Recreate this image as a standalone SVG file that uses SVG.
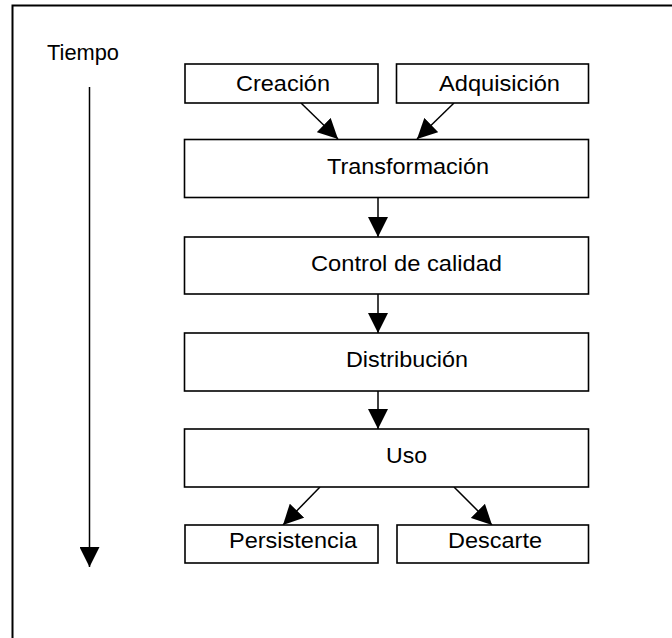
<svg xmlns="http://www.w3.org/2000/svg" width="672" height="638" viewBox="0 0 672 638">
<style>
.box{fill:#fff;stroke:#000;stroke-width:1.6}
.lbl{font-family:"Liberation Sans",Arial,sans-serif;font-size:22px;fill:#000}
.con{stroke:#000;stroke-width:1.5;fill:none;marker-end:url(#ah)}
</style>
<defs>
<marker id="ah" markerUnits="userSpaceOnUse" markerWidth="20" markerHeight="20" refX="20" refY="10" orient="auto" viewBox="0 0 20 20">
<path d="M0,0 L20,10 L0,20 z" fill="#000"/>
</marker>
</defs>
<rect x="0" y="0" width="672" height="638" fill="#fff"/>
<rect x="12.5" y="5.5" width="720" height="700" fill="none" stroke="#000" stroke-width="2"/>
<g id="tiempo">
<text class="lbl" x="47" y="60" textLength="72" lengthAdjust="spacingAndGlyphs">Tiempo</text>
</g>
<g id="connectors">
<line class="con" x1="89.5" y1="87" x2="89.5" y2="567"/>
<line class="con" x1="301" y1="103" x2="338" y2="139"/>
<line class="con" x1="454" y1="103" x2="417" y2="139"/>
<line class="con" x1="378" y1="198" x2="378" y2="237"/>
<line class="con" x1="378" y1="294" x2="378" y2="333"/>
<line class="con" x1="378" y1="391" x2="378" y2="429"/>
<line class="con" x1="320" y1="487" x2="283" y2="525"/>
<line class="con" x1="454" y1="487" x2="492" y2="525"/>
</g>
<g id="creacion">
<rect class="box" x="185" y="64" width="193" height="39"/>
<text class="lbl" x="236" y="90.5" textLength="94" lengthAdjust="spacingAndGlyphs">Creación</text>
</g>
<g id="adquisicion">
<rect class="box" x="396.5" y="64" width="192" height="39"/>
<text class="lbl" x="439" y="90.5" textLength="121" lengthAdjust="spacingAndGlyphs">Adquisición</text>
</g>
<g id="transformacion">
<rect class="box" x="184.5" y="139.5" width="404" height="58"/>
<text class="lbl" x="327" y="173.5" textLength="162" lengthAdjust="spacingAndGlyphs">Transformación</text>
</g>
<g id="control">
<rect class="box" x="184.5" y="237" width="404" height="57"/>
<text class="lbl" x="311" y="270.5" textLength="191" lengthAdjust="spacingAndGlyphs">Control de calidad</text>
</g>
<g id="distribucion">
<rect class="box" x="184.5" y="333" width="404" height="58"/>
<text class="lbl" x="346" y="366.5" textLength="122" lengthAdjust="spacingAndGlyphs">Distribución</text>
</g>
<g id="uso">
<rect class="box" x="184.5" y="429" width="404" height="58"/>
<text class="lbl" x="386" y="462.5" textLength="41" lengthAdjust="spacingAndGlyphs">Uso</text>
</g>
<g id="persistencia">
<rect class="box" x="185" y="525" width="193" height="38"/>
<text class="lbl" x="229" y="547.5" textLength="128" lengthAdjust="spacingAndGlyphs">Persistencia</text>
</g>
<g id="descarte">
<rect class="box" x="397" y="525" width="191.5" height="38"/>
<text class="lbl" x="448" y="547.5" textLength="94" lengthAdjust="spacingAndGlyphs">Descarte</text>
</g>
</svg>
